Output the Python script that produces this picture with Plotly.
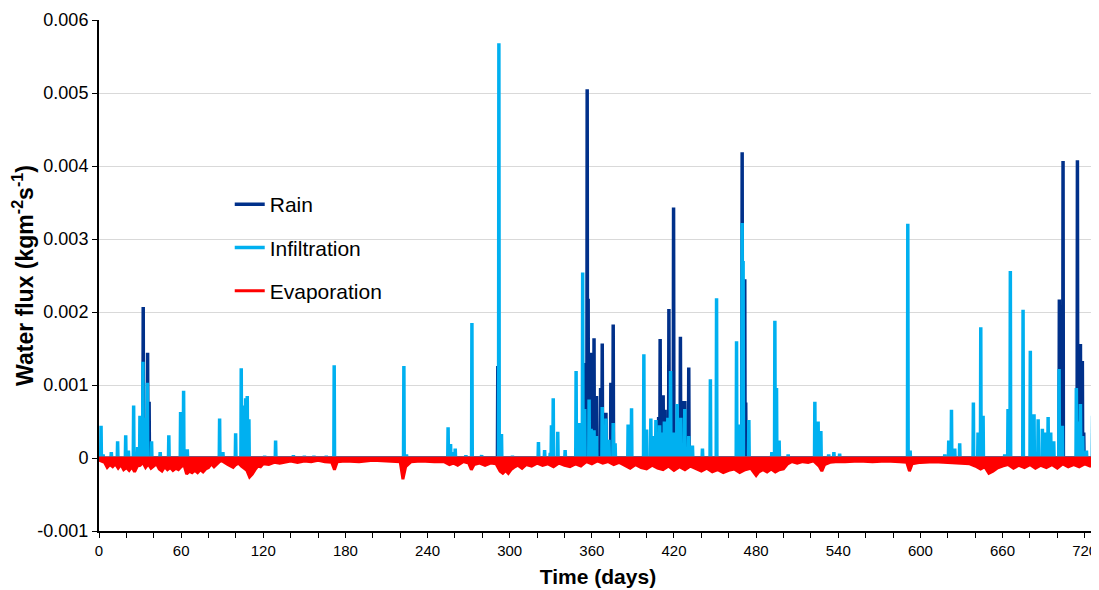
import plotly.graph_objects as go

# ---- data (values in kg m-2 s-1) ----
infil_day = [1.5, 3, 9, 13.6, 19.5, 21.5, 25.3, 28.2, 29.9, 32.1, 33.3, 35.3, 38.4, 44.7, 51, 59.6, 61.8,
             64.5, 88.1, 90.5, 99.8, 103.9, 105.5, 107.1, 108.3, 109.5, 121, 129, 142, 150, 157, 166, 171.8,
             184, 222.7, 224.6, 255, 256.8, 258.7, 260.2, 268, 272.4, 279.5, 292.1, 294, 302, 321, 325.5,
             329.6, 330.5, 331.8, 335.1, 340.5, 348.5, 350.6, 353.3, 354.8, 358, 359.5, 361.6, 363.4, 367.6,
             370.3, 372.5, 375.6, 377, 386.5, 389, 398, 400, 403.1, 405, 406.8, 409.5, 411, 413, 415.5, 417.5,
             419.7, 422.3, 425, 427.9, 430.8, 433.5, 440.8, 446.6, 451.1, 465.7, 467.4, 469.8, 470.5, 474.7,
             491.5, 493.7, 494.9, 496.8, 503.4, 522.9, 525.3, 527.3, 533, 536.8, 541, 590.8, 592.5, 617.8,
             620.7, 622.7, 625.1, 628.7, 638.7, 642.1, 644.1, 645.8, 661.6, 664.0, 665.7, 675.0, 680.3, 683.0,
             686.0, 689.1, 690.8, 693.3, 695.2, 697.4, 701.3, 703.7, 713.9, 715.5, 716.9, 718.5, 721.3,
             725.8, 727.5]
infil_val = [0.00044, 0.00005, 0.00008, 0.00023, 0.00031, 0.00010, 0.00072, 0.00015, 0.00058, 0.00132,
             0.00055, 0.00103, 0.00023, 0.00008, 0.00031, 0.00063, 0.00092, 0.00012, 0.00054, 0.00008,
             0.00034, 0.00123, 0.00072, 0.00082, 0.00085, 0.00053, 0.00003, 0.00024, 0.00004, 0.00003,
             0.00003, 0.00003, 0.00127, 0.00002, 0.00126, 0.00005, 0.00042, 0.00019, 0.00008, 0.00013,
             0.00004, 0.00185, 0.00004, 0.00568, 0.00033, 0.00003, 0.00022, 0.00011, 0.00007, 0.00045,
             0.00082, 0.00036, 0.00011, 0.00119, 0.00048, 0.00254, 0.00067, 0.00080, 0.00040, 0.00038,
             0.00030, 0.00070, 0.00054, 0.00025, 0.00048, 0.00020, 0.00046, 0.00068, 0.00142, 0.00039,
             0.00054, 0.00030, 0.00052, 0.00045, 0.00035, 0.00050, 0.00055, 0.00119, 0.00035, 0.00074,
             0.00055, 0.00067, 0.00030, 0.00017, 0.00013, 0.00108, 0.00219, 0.00160, 0.00046, 0.00322,
             0.00270, 0.00052, 0.00008, 0.00188, 0.00096, 0.00024, 0.00005, 0.00077, 0.00050, 0.00037,
             0.00005, 0.00008, 0.00006, 0.00321, 0.00010, 0.00005,
             0.00024, 0.00066, 0.00013, 0.00020, 0.00076, 0.00035, 0.00179, 0.00058, 0.00005, 0.00067,
             0.00256, 0.00203, 0.00147, 0.00060, 0.00053, 0.00040, 0.00035, 0.00056, 0.00035, 0.00023,
             0.00122, 0.00044, 0.00096, 0.00050, 0.00074, 0.00030, 0.00010, 0.00058, 0.00015]

rain_day = [32.3, 35.5, 36.6, 291.3, 354.9, 356.6, 357.3, 359, 361.6, 363.4, 366.4, 367.6, 370.3, 373.9,
            375.6, 408.8, 409.9, 412.1, 413.5, 416.3, 419.7, 424.7, 426.7, 427.9, 430.8, 469.8, 471.7,
            472.4, 701.5, 704.2, 714.7, 716.9, 718.3, 719.3, 726.1, 726.8, 728.0]
rain_val = [0.00207, 0.00144, 0.00077, 0.00126, 0.00130, 0.00505, 0.00218, 0.00144, 0.00164, 0.00085,
            0.00096, 0.00157, 0.00062, 0.00103, 0.00183, 0.00056, 0.00163, 0.00086, 0.00066, 0.00204,
            0.00343, 0.00166, 0.00078, 0.00078, 0.00124, 0.00419, 0.00245, 0.00076, 0.00217, 0.00407,
            0.00408, 0.00156, 0.00133, 0.00035, 0.00258, 0.00167, 0.00127]

evap_day = [0, 2, 4, 6, 8, 10, 12, 14, 16, 18, 20, 22, 24, 26, 28, 30, 32, 34, 36, 38, 40, 42, 44, 46, 48,
            50, 52, 54, 56, 58, 60, 62, 64, 66, 68, 70, 72, 74, 76, 78, 80, 82, 84, 86, 88, 90, 92, 94, 96,
            98, 100, 102, 104, 106, 108, 110, 112, 114, 116, 118, 120, 124, 128, 132, 136, 140, 145, 150,
            155, 160, 165, 170, 172, 174, 180, 190, 200, 210, 220, 222, 224, 228, 235, 245, 252, 256, 259,
            262, 266, 270, 272, 274, 278, 282, 286, 290, 293, 295, 297, 299, 301, 303, 306, 309, 312, 316,
            320, 324, 328, 332, 336, 340, 344, 348, 352, 356, 360, 364, 368, 372, 376, 380, 384, 388, 392,
            396, 400, 404, 408, 412, 416, 420, 424, 428, 432, 436, 440, 444, 448, 452, 456, 460, 464, 468,
            472, 476, 480, 482, 485, 488, 491, 494, 497, 500, 503, 506, 510, 514, 518, 522, 526, 528, 530,
            534, 538, 545, 555, 565, 575, 585, 590, 592, 594, 600, 610, 620, 630, 636, 640, 644, 647, 650,
            653, 656, 660, 664, 668, 672, 676, 680, 684, 688, 692, 696, 700, 704, 708, 712, 716, 720, 724,
            728]
evap_val = [-0.00003, -0.00005, -0.00006, -0.00013, -0.00009, -0.00012, -0.00008, -0.00014, -0.00009,
            -0.00016, -0.00013, -0.00017, -0.00012, -0.00019, -0.00011, -0.00010, -0.00006, -0.00013,
            -0.00008, -0.00014, -0.00011, -0.00008, -0.00015, -0.00018, -0.00012, -0.00016, -0.00013,
            -0.00017, -0.00014, -0.00016, -0.00012, -0.00009, -0.00022, -0.00018, -0.00020, -0.00017,
            -0.00020, -0.00016, -0.00019, -0.00015, -0.00013, -0.00008, -0.00012, -0.00009, -0.00005,
            -0.00004, -0.00007, -0.00009, -0.00011, -0.00013, -0.00009, -0.00007, -0.00011, -0.00014,
            -0.00017, -0.00026, -0.00022, -0.00016, -0.00011, -0.00012, -0.00008, -0.00009, -0.00006,
            -0.00007, -0.00005, -0.00004, -0.00006, -0.00004, -0.00005, -0.00003, -0.00005, -0.00006,
            -0.00016, -0.00005, -0.00004, -0.00005, -0.00003, -0.00004, -0.00005, -0.00029, -0.00012,
            -0.00005, -0.00004, -0.00005, -0.00005, -0.00009, -0.00007, -0.00010, -0.00005, -0.00007,
            -0.00016, -0.00009, -0.00007, -0.00010, -0.00007, -0.00008, -0.00018, -0.00021, -0.00017,
            -0.00021, -0.00016, -0.00013, -0.00010, -0.00014, -0.00009, -0.00011, -0.00007, -0.00010,
            -0.00008, -0.00012, -0.00007, -0.00010, -0.00012, -0.00008, -0.00011, -0.00005, -0.00008,
            -0.00004, -0.00007, -0.00005, -0.00009, -0.00006, -0.00010, -0.00014, -0.00009, -0.00013,
            -0.00015, -0.00010, -0.00014, -0.00016, -0.00011, -0.00017, -0.00012, -0.00016, -0.00011,
            -0.00015, -0.00018, -0.00014, -0.00019, -0.00016, -0.00020, -0.00017, -0.00015, -0.00020,
            -0.00016, -0.00014, -0.00024, -0.00019, -0.00016, -0.00019, -0.00015, -0.00019, -0.00016,
            -0.00015, -0.00008, -0.00005, -0.00007, -0.00005, -0.00006, -0.00004, -0.00011, -0.00018,
            -0.00009, -0.00006, -0.00005, -0.00005, -0.00004, -0.00005, -0.00004, -0.00005, -0.00006,
            -0.00018, -0.00008, -0.00006, -0.00005, -0.00006, -0.00007, -0.00008, -0.00011, -0.00015,
            -0.00012, -0.00021, -0.00018, -0.00014, -0.00011, -0.00009, -0.00014, -0.00010, -0.00013,
            -0.00009, -0.00014, -0.00010, -0.00013, -0.00009, -0.00014, -0.00008, -0.00012, -0.00009,
            -0.00012, -0.00008, -0.00011, -0.00008]

y_ticks = [-0.001, 0, 0.001, 0.002, 0.003, 0.004, 0.005, 0.006]
y_labels = ["-0.001", "0", "0.001", "0.002", "0.003", "0.004", "0.005", "0.006"]
x_ticks = list(range(0, 721, 20))
x_labels = [str(v) if v % 60 == 0 else "" for v in x_ticks]

RAIN_C = "#00308A"
INFIL_C = "#00B0F0"
EVAP_C = "#FF0000"
FONT = "Liberation Sans, Arial, sans-serif"


def spikes(days, vals, hw=0.25):
    xs, ys = [], []
    for d, v in sorted(zip(days, vals)):
        xs += [d - hw, d, d + hw]
        ys += [0, v, 0]
    return xs, ys


fig = go.Figure()

rx, ry = spikes(rain_day, rain_val)
fig.add_trace(go.Scatter(x=rx, y=ry, mode="lines", name="Rain", legendgroup="r",
                         line=dict(color=RAIN_C, width=3.5)))
ix, iy = spikes(infil_day, infil_val)
fig.add_trace(go.Scatter(x=ix, y=iy, mode="lines", name="Infiltration", legendgroup="i",
                         line=dict(color=INFIL_C, width=3.5)))
# evaporation: envelope filled to zero (closed along the zero line)
ex = evap_day + evap_day[::-1]
ey = evap_val + [0 for _ in evap_day]
fig.add_trace(go.Scatter(x=ex, y=ey, mode="lines", fill="toself", fillcolor=EVAP_C,
                         line=dict(color=EVAP_C, width=3), showlegend=False, hoverinfo="skip"))
fig.add_trace(go.Scatter(x=[None], y=[None], mode="lines", name="Evaporation", legendgroup="e",
                         line=dict(color=EVAP_C, width=3)))

# the page body adds an 8px offset, so the figure is sized 8px smaller on each axis
fig.update_layout(
    width=1091, height=582,
    margin=dict(l=91, r=2, t=12, b=59, autoexpand=False),
    plot_bgcolor="white", paper_bgcolor="white",
    font=dict(family=FONT, size=18, color="black"),
    legend=dict(x=0.131, y=0.679, xanchor="left", yanchor="top", bgcolor="rgba(0,0,0,0)",
                font=dict(size=21, family=FONT), itemwidth=30, tracegroupgap=13,
                traceorder="grouped"),
)
fig.update_xaxes(range=[0, 729], tickvals=x_ticks, ticktext=x_labels, ticks="outside", ticklen=5,
                 tickcolor="black", tickwidth=1, showline=True, linecolor="black", linewidth=2,
                 showgrid=False, zeroline=False, automargin=False, ticklabeloverflow="allow",
                 tickfont=dict(size=15),
                 title=dict(text="<b>Time (days)</b>", font=dict(size=21, family=FONT), standoff=11))
fig.update_yaxes(range=[-0.001, 0.006], tickvals=y_ticks, ticktext=y_labels, ticks="outside", ticklen=5,
                 tickcolor="black", tickwidth=1, showline=True, linecolor="black", linewidth=2,
                 showgrid=True, gridcolor="#D9D9D9", gridwidth=1, zeroline=False, automargin=False,
                 ticklabeloverflow="allow",
                 title=dict(text="<b>Water flux (kgm<sup>-2</sup>s<sup>-1</sup>)</b>",
                            font=dict(size=23, family=FONT), standoff=9))

fig.write_html("out.html")
